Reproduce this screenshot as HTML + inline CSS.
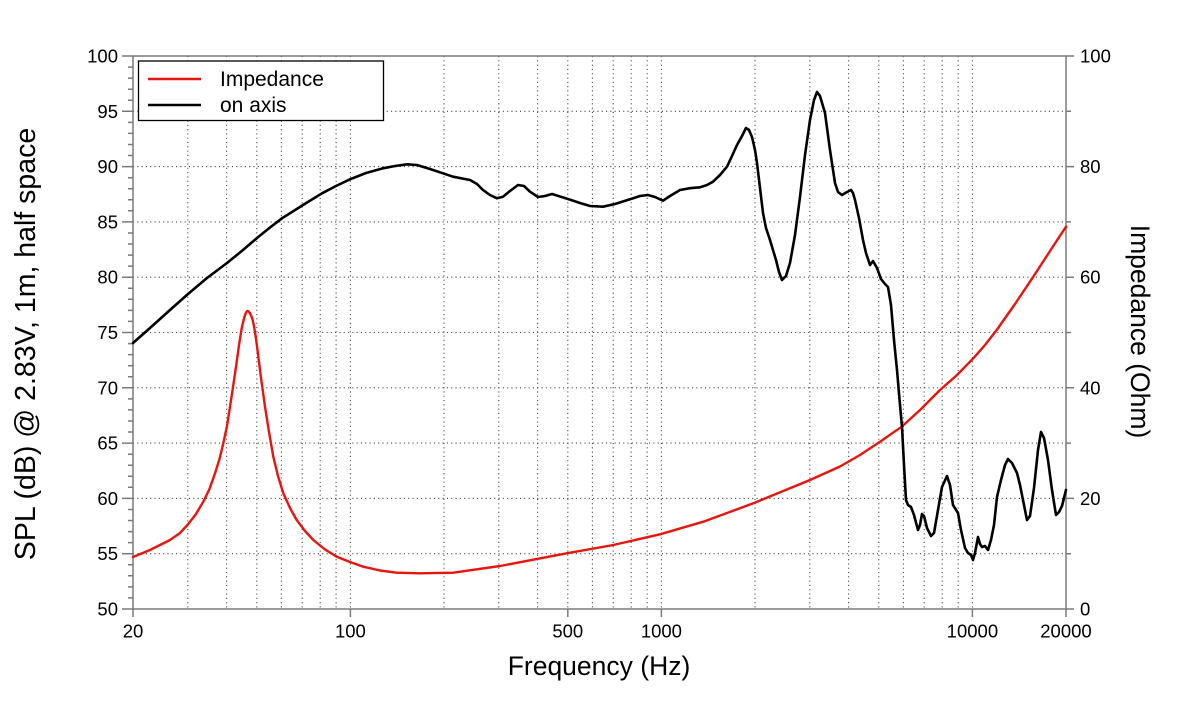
<!DOCTYPE html>
<html><head><meta charset="utf-8"><style>
html,body{margin:0;padding:0;background:#fff;}
svg{display:block;font-family:"Liberation Sans",Arial,sans-serif;}
</style></head><body>
<svg width="1200" height="720" viewBox="0 0 1200 720" xmlns="http://www.w3.org/2000/svg">
<rect width="1200" height="720" fill="#fff"/>
<g stroke="#444" stroke-width="1.1" stroke-dasharray="1.1,3.2" fill="none">
<line x1="133" y1="111.3" x2="1066" y2="111.3"/>
<line x1="133" y1="166.6" x2="1066" y2="166.6"/>
<line x1="133" y1="221.9" x2="1066" y2="221.9"/>
<line x1="133" y1="277.2" x2="1066" y2="277.2"/>
<line x1="133" y1="332.5" x2="1066" y2="332.5"/>
<line x1="133" y1="387.8" x2="1066" y2="387.8"/>
<line x1="133" y1="443.1" x2="1066" y2="443.1"/>
<line x1="133" y1="498.4" x2="1066" y2="498.4"/>
<line x1="133" y1="553.7" x2="1066" y2="553.7"/>
<line x1="187.8" y1="56" x2="187.8" y2="609"/>
<line x1="226.6" y1="56" x2="226.6" y2="609"/>
<line x1="256.8" y1="56" x2="256.8" y2="609"/>
<line x1="281.4" y1="56" x2="281.4" y2="609"/>
<line x1="302.2" y1="56" x2="302.2" y2="609"/>
<line x1="320.2" y1="56" x2="320.2" y2="609"/>
<line x1="336.1" y1="56" x2="336.1" y2="609"/>
<line x1="350.4" y1="56" x2="350.4" y2="609"/>
<line x1="444" y1="56" x2="444" y2="609"/>
<line x1="498.8" y1="56" x2="498.8" y2="609"/>
<line x1="537.6" y1="56" x2="537.6" y2="609"/>
<line x1="567.8" y1="56" x2="567.8" y2="609"/>
<line x1="592.4" y1="56" x2="592.4" y2="609"/>
<line x1="613.2" y1="56" x2="613.2" y2="609"/>
<line x1="631.2" y1="56" x2="631.2" y2="609"/>
<line x1="647.2" y1="56" x2="647.2" y2="609"/>
<line x1="661.4" y1="56" x2="661.4" y2="609"/>
<line x1="755" y1="56" x2="755" y2="609"/>
<line x1="809.8" y1="56" x2="809.8" y2="609"/>
<line x1="848.6" y1="56" x2="848.6" y2="609"/>
<line x1="878.8" y1="56" x2="878.8" y2="609"/>
<line x1="903.4" y1="56" x2="903.4" y2="609"/>
<line x1="924.2" y1="56" x2="924.2" y2="609"/>
<line x1="942.2" y1="56" x2="942.2" y2="609"/>
<line x1="958.2" y1="56" x2="958.2" y2="609"/>
<line x1="972.4" y1="56" x2="972.4" y2="609"/>
</g>
<g stroke="#7a7a7a" stroke-width="1.5" fill="none">
<rect x="133" y="56" width="933" height="553"/>
<path d="M122 56H133M122 111.3H133M122 166.6H133M122 221.9H133M122 277.2H133M122 332.5H133M122 387.8H133M122 443.1H133M122 498.4H133M122 553.7H133M122 609H133"/>
<path d="M128 67.1H133M128 78.1H133M128 89.2H133M128 100.2H133M128 122.4H133M128 133.4H133M128 144.5H133M128 155.5H133M128 177.7H133M128 188.7H133M128 199.8H133M128 210.8H133M128 233H133M128 244H133M128 255.1H133M128 266.1H133M128 288.3H133M128 299.3H133M128 310.4H133M128 321.4H133M128 343.6H133M128 354.6H133M128 365.7H133M128 376.7H133M128 398.9H133M128 409.9H133M128 421H133M128 432H133M128 454.2H133M128 465.2H133M128 476.3H133M128 487.3H133M128 509.5H133M128 520.5H133M128 531.6H133M128 542.6H133M128 564.8H133M128 575.8H133M128 586.9H133M128 597.9H133"/>
<path d="M1066 56H1074M1066 166.6H1074M1066 277.2H1074M1066 387.8H1074M1066 498.4H1074M1066 609H1074"/>
<path d="M1066 111.3H1071M1066 221.9H1071M1066 332.5H1071M1066 443.1H1071M1066 553.7H1071"/>
<path d="M133 609V617M350.4 609V617M567.8 609V617M661.4 609V617M972.4 609V617M1066 609V617"/>
</g>
<g font-size="18.5" fill="#000" text-anchor="end">
<text x="118" y="62.5">100</text>
<text x="118" y="117.8">95</text>
<text x="118" y="173.1">90</text>
<text x="118" y="228.4">85</text>
<text x="118" y="283.7">80</text>
<text x="118" y="339">75</text>
<text x="118" y="394.3">70</text>
<text x="118" y="449.6">65</text>
<text x="118" y="504.9">60</text>
<text x="118" y="560.2">55</text>
<text x="118" y="615.5">50</text>
</g>
<g font-size="18.5" fill="#000" text-anchor="start">
<text x="1080" y="62.5">100</text>
<text x="1080" y="173.1">80</text>
<text x="1080" y="283.7">60</text>
<text x="1080" y="394.3">40</text>
<text x="1080" y="504.9">20</text>
<text x="1080" y="615.5">0</text>
</g>
<g font-size="18.5" fill="#000" text-anchor="middle">
<text x="133" y="637.5">20</text>
<text x="350.4" y="637.5">100</text>
<text x="567.8" y="637.5">500</text>
<text x="661.4" y="637.5">1000</text>
<text x="972.4" y="637.5">10000</text>
<text x="1066" y="637.5">20000</text>
</g>
<text x="599" y="675" font-size="26.5" text-anchor="middle" fill="#000">Frequency (Hz)</text>
<text transform="translate(35,344) rotate(-90)" font-size="28.5" text-anchor="middle" fill="#000">SPL (dB) @ 2.83V, 1m, half space</text>
<text transform="translate(1131,331.5) rotate(90)" font-size="26.5" text-anchor="middle" fill="#000">Impedance (Ohm)</text>

<polyline fill="none" stroke="#e8150f" stroke-width="2.4" stroke-linejoin="round" stroke-linecap="round" points="133,557 150,550 170,540 180,533 188.3,524 196,514 203.3,501.7 209.5,489 215,473.3 219.5,459 223.3,443.3 227,426 230,406.7 233,387 236,366.7 239,345 241.7,328.3 243.5,320.5 245,315 246.2,312.3 247.3,311 248.7,311.4 250,313.3 251.3,316 252.7,320 254.2,327.5 255.7,336.7 257,346 258.3,356.7 261.5,381.5 265,406.7 269,432 273.3,456.7 278,476 283.3,493.3 290,508 296.7,520 305,531 313.3,540 325,549.5 336.7,556.7 350,562 363.3,566.7 380,570.5 396.7,572.7 420,573.3 453.3,572.7 500,566 566.7,553.3 613.3,545 660,534.3 703.3,521.7 753.3,503.3 810,480 840,466.5 860,455 880,441.7 901.7,426.7 920,410 940,390 957,375 973.3,358.3 985,345 996.7,330 1015,304 1033.3,276.7 1050,251 1066,226.7"/>

<polyline fill="none" stroke="#000" stroke-width="2.6" stroke-linejoin="round" stroke-linecap="round" points="133,343 150,328 170,310 188,294 207,278 227,263 243,250 257,238 270,227.5 282,218.3 303,205 322,193.3 336,186 350,179.3 366,173 383,168.3 395,166 407,164.3 417,165 430,169 443,173.3 453,176.7 470,180 477,184 483,190 490,195 497,198.3 503,196.7 510,191 518,185 524,186 530,191.7 538,197 545,196 552,194 560,196.5 568,199 580,203 590,206 603,206.7 615,204 630,199.3 640,196 648,195 655,197 663,200.7 670,196 680,190 690,188.2 700,187.3 707,185 713,181.7 720,175 727,166.7 732,156 737,145 742,136 746,128 749,130 752,137 755,150 757,163 760,188 763,213 766,228 770,240 776,260 779,272 782,280 786,276 790,263 795,235 800,197 805,155 810,120 814,100 817,92 820,96 825,113 830,150 835,183 838,192 842,195 847,192 851,190 853,193 855,200 859,218 863,240 866,253 870,265 873,261 877,268 881,279 885,284 888,287 891,305 894,340 897,370 900,405 902,427 904,465 906,500 908,505 911,507 914,515 918,530 920,525 922,514 924,516 927,528 931,536 934,533 938,510 942,487 947,476 950,485 953,505 958,513 961,530 965,548 968,553 971,555 973,560 975,553 978,537 980,544 982,547 985,546 988,550 991,540 994,525 997,497 1001,480 1005,465 1008,459 1012,463 1017,473 1020,485 1024,505 1027,520 1030,516 1034,488 1038,450 1041,432 1044,438 1048,460 1052,490 1056,515 1059,512 1062,506 1066,490"/>

<rect x="138.5" y="61" width="245" height="59.5" fill="#fff" stroke="#000" stroke-width="1.3"/>
<line x1="148" y1="79" x2="201" y2="79" stroke="#e8150f" stroke-width="2.4"/>
<line x1="148" y1="105" x2="201" y2="105" stroke="#000" stroke-width="2.6"/>
<text x="220" y="86" font-size="21" fill="#000">Impedance</text>
<text x="220" y="112" font-size="21" fill="#000">on axis</text>
</svg>
</body></html>
